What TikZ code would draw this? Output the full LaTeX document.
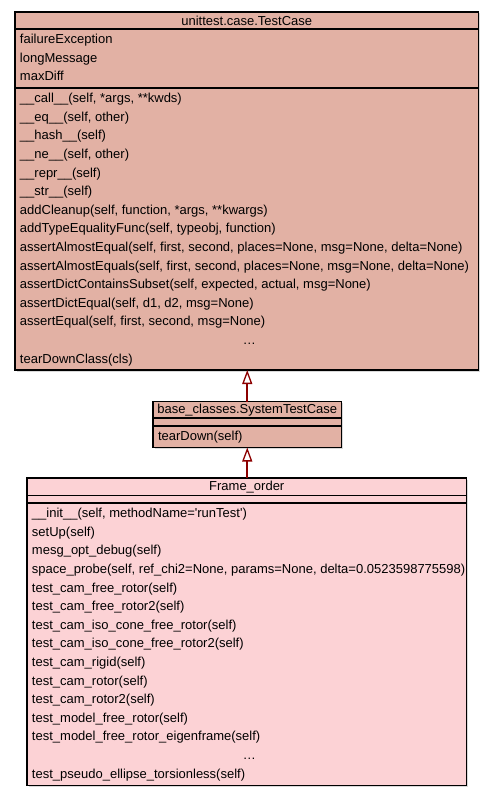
\documentclass[tikz,border=0pt]{standalone}
\usepackage{fontspec}
\usepackage{tikz}
\usetikzlibrary{arrows.meta,shadows}

\newfontfamily\umlsans{Liberation Sans}
\newcommand{\umlfont}{\umlsans\fontsize{13}{18.6}\selectfont}
\newcommand{\rowsbox}[3]{\parbox[c][#2][t]{#1}{\raggedright\leftskip=5pt\rule{0pt}{14.6pt}#3}}
\newcommand{\moredots}{\leavevmode\hfill\ldots\hfill\null}

\definecolor{basefill}{RGB}{226,177,164}
\definecolor{framefill}{RGB}{252,210,213}
\definecolor{linkred}{RGB}{140,0,0}

\tikzset{
    part/.style={draw=black, line width=1.4pt, anchor=north west, inner sep=0pt, outer sep=0pt, font=\umlfont,
        drop shadow={shadow xshift=1.5pt, shadow yshift=-1.5pt, opacity=0.3}},
    basepart/.style={part, fill=basefill},
    framepart/.style={part, fill=framefill},
    inherits/.style={draw=linkred, line width=2pt,
        -{Triangle[open, fill=white, length=14pt, width=10pt, line width=1.3pt]}}
}

\begin{document}
\begin{tikzpicture}[x=1pt, y=-1pt]
    \useasboundingbox (0,0) rectangle (493,797);

    % unittest.case.TestCase
    \node[basepart, minimum width=463.5pt, minimum height=17pt] (tc title) at (15,12) {unittest.case.TestCase};
    \node[basepart] (tc attr) at (tc title.south west) {\rowsbox{463.5pt}{59pt}{%
        failureException\\
        longMessage\\
        maxDiff}};
    \node[basepart] (tc ops) at (tc attr.south west) {\rowsbox{463.5pt}{282pt}{%
        \_\_call\_\_(self, *args, **kwds)\\
        \_\_eq\_\_(self, other)\\
        \_\_hash\_\_(self)\\
        \_\_ne\_\_(self, other)\\
        \_\_repr\_\_(self)\\
        \_\_str\_\_(self)\\
        addCleanup(self, function, *args, **kwargs)\\
        addTypeEqualityFunc(self, typeobj, function)\\
        assertAlmostEqual(self, first, second, places=None, msg=None, delta=None)\\
        assertAlmostEquals(self, first, second, places=None, msg=None, delta=None)\\
        assertDictContainsSubset(self, expected, actual, msg=None)\\
        assertDictEqual(self, d1, d2, msg=None)\\
        assertEqual(self, first, second, msg=None)\\
        \moredots\\
        tearDownClass(cls)}};

    % base_classes.SystemTestCase
    \node[basepart, minimum width=188.5pt, minimum height=16.5pt] (stc title) at (153,401.5) {base\_classes.SystemTestCase};
    \node[basepart, minimum width=188.5pt, minimum height=8pt] (stc attr) at (stc title.south west) {};
    \node[basepart] (stc ops) at (stc attr.south west) {\rowsbox{188.5pt}{21.5pt}{tearDown(self)}};

    % Frame_order
    \node[framepart, minimum width=439.5pt, minimum height=17.5pt] (fo title) at (27,478) {Frame\_order};
    \node[framepart, minimum width=439.5pt, minimum height=7.5pt] (fo attr) at (fo title.south west) {};
    \node[framepart] (fo ops) at (fo attr.south west) {\rowsbox{439.5pt}{282.5pt}{%
        \_\_init\_\_(self, methodName=\textquotesingle runTest\textquotesingle)\\
        setUp(self)\\
        mesg\_opt\_debug(self)\\
        space\_probe(self, ref\_chi2=None, params=None, delta=0.0523598775598)\\
        test\_cam\_free\_rotor(self)\\
        test\_cam\_free\_rotor2(self)\\
        test\_cam\_iso\_cone\_free\_rotor(self)\\
        test\_cam\_iso\_cone\_free\_rotor2(self)\\
        test\_cam\_rigid(self)\\
        test\_cam\_rotor(self)\\
        test\_cam\_rotor2(self)\\
        test\_model\_free\_rotor(self)\\
        test\_model\_free\_rotor\_eigenframe(self)\\
        \moredots\\
        test\_pseudo\_ellipse\_torsionless(self)}};

    \draw[inherits] (stc title.north) -- (stc title.north |- tc ops.south);
    \draw[inherits] (stc title.north |- fo title.north) -- (stc ops.south);
\end{tikzpicture}
\end{document}
